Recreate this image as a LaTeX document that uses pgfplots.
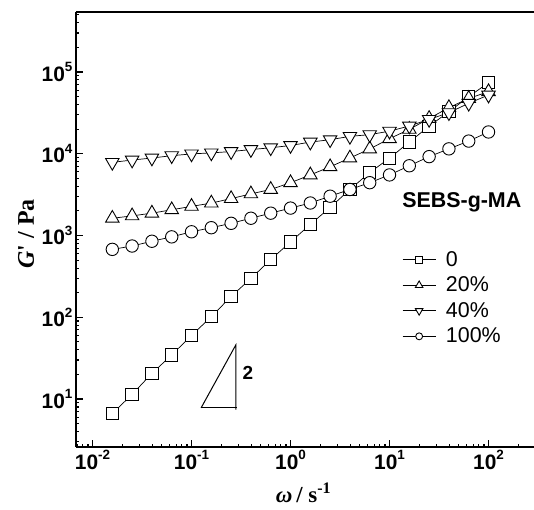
\documentclass[border=0pt]{standalone}
\usepackage{fontspec}
\setmainfont{Liberation Sans}
\newfontfamily\serifbf{Liberation Serif}
\usepackage{pgfplots}
\pgfplotsset{compat=1.18}
\usetikzlibrary{calc}

\newcommand{\tl}[1]{\textbf{10\raisebox{0.45em}{\fontsize{13.5}{13.5}\selectfont\bfseries #1}}}

\begin{document}
\begin{tikzpicture}
\begin{axis}[
  name=ax,
  scale only axis, width=458bp, height=435bp,
  xmode=log, ymode=log,
  xmin=0.00681, xmax=288, ymin=2.59, ymax=5.42e5,
  axis x line=box, axis y line=left,
  axis line style={-, line width=1.8bp},
  tick align=inside, xtick pos=left, ytick pos=left,
  major tick length=7bp, minor tick length=3.5bp,
  every tick/.style={black, line width=1.1bp},
  xtick={0.01,0.1,1,10,100},
  xticklabels={\tl{-2},\tl{-1},\tl{0},\tl{1},\tl{2}},
  minor xtick={0.007,0.008,0.009,0.02,0.03,0.04,0.05,0.06,0.07,0.08,0.09,
    0.2,0.3,0.4,0.5,0.6,0.7,0.8,0.9,2,3,4,5,6,7,8,9,
    20,30,40,50,60,70,80,90,200},
  ytick={10,100,1000,10000,100000},
  yticklabels={\tl{1},\tl{2},\tl{3},\tl{4},\tl{5}},
  minor ytick={3,4,5,6,7,8,9,20,30,40,50,60,70,80,90,200,300,400,500,600,700,800,900,
    2000,3000,4000,5000,6000,7000,8000,9000,20000,30000,40000,50000,60000,70000,80000,90000,
    200000,300000,400000,500000},
  tick label style={font=\fontsize{21}{22}\selectfont\bfseries},
  xlabel={\serifbf\bfseries\itshape ω\upshape\,/ s\textsuperscript{-1}},
  ylabel={\serifbf\bfseries\itshape G\upshape' / Pa},
  xlabel style={at={(axis description cs:0.497,-0.106)}, anchor=center, inner sep=0pt,
    font=\fontsize{23}{25}\selectfont},
  ylabel style={at={(axis description cs:-0.109,0.49)}, anchor=center, inner sep=0pt,
    font=\fontsize{24}{26}\selectfont},
  legend image code/.code={
    \draw[#1, mark=none] (0bp,0bp) -- (33bp,0bp);
    \draw[#1, every mark/.append style={scale=0.56}] plot coordinates {(16.5bp,0bp)};
    \path (43bp,0bp);
  },
  legend style={at={(axis description cs:0.712,0.452)}, anchor=north west,
    draw=none, fill=none, inner sep=0pt, row sep=7bp,
    font=\fontsize{21.5}{24}\selectfont,
    nodes={inner sep=0pt, text height=15.5bp, text depth=3bp}},
  legend cell align=left,
]
\addplot[black, line width=0.7bp, mark=square*, mark size=6.2bp,
  mark options={fill=white, line width=0.9bp}] coordinates {
  (0.01585,6.65)(0.02512,11.4)(0.03981,20.6)(0.0631,34.6)(0.1,60.1)
  (0.1585,101.5)(0.2512,180)(0.3981,298)(0.631,508)(1,834)
  (1.585,1368)(2.512,2204)(3.981,3661)(6.31,5893)(10,8834)
  (15.85,13920)(25.12,21760)(39.81,32680)(63.1,49960)(100,74030)};
\addlegendentry{0}
\addplot[black, line width=0.7bp, mark=triangle*, mark size=7.8bp,
  mark options={fill=white, line width=0.9bp}] coordinates {
  (0.01585,1625)(0.02512,1739)(0.03981,1877)(0.0631,2065)(0.1,2271)
  (0.1585,2494)(0.2512,2827)(0.3981,3230)(0.631,3661)(1,4423)
  (1.585,5511)(2.512,6932)(3.981,8880)(6.31,11450)(10,15300)
  (15.85,19880)(25.12,27000)(39.81,36670)(63.1,47500)(100,57450)};
\addlegendentry{20\%}
\addplot[black, line width=0.7bp, mark=triangle*, mark size=7.8bp,
  mark options={fill=white, line width=0.9bp, rotate=180}] coordinates {
  (0.01585,7850)(0.02512,8380)(0.03981,8870)(0.0631,9470)(0.1,9960)
  (0.1585,10250)(0.2512,10640)(0.3981,11260)(0.631,11830)(1,12630)
  (1.585,13890)(2.512,14860)(3.981,16320)(6.31,17140)(10,18900)
  (15.85,21860)(25.12,26330)(39.81,31800)(63.1,41450)(100,52240)};
\addlegendentry{40\%}
\addplot[black, line width=0.7bp, mark=*, mark size=6.2bp,
  mark options={fill=white, line width=0.9bp}] coordinates {
  (0.01585,677)(0.02512,744)(0.03981,851)(0.0631,963)(0.1,1111)
  (0.1585,1246)(0.2512,1410)(0.3981,1627)(0.631,1877)(1,2165)
  (1.585,2499)(2.512,3027)(3.981,3657)(6.31,4428)(10,5511)
  (15.85,7131)(25.12,9226)(39.81,11480)(63.1,14290)(100,18470)};
\addlegendentry{100\%}
\node[anchor=west, inner sep=0pt, font=\fontsize{21.5}{24}\selectfont\bfseries]
  at (axis description cs:0.712,0.563) {SEBS-g-MA};
\draw[line width=1bp] (axis cs:0.125,7.8) -- (axis cs:0.28,45.8) -- (axis cs:0.28,7.4);
\draw[line width=1bp] (axis cs:0.125,7.8) -- (axis cs:0.288,7.8);
\node[font=\fontsize{19}{20}\selectfont\bfseries] at (axis cs:0.37,20.8) {2};
\end{axis}
\pgfresetboundingbox
\path ($(ax.south west)+(-76bp,-63bp)$) rectangle ($(ax.north east)+(0bp,12bp)$);
\end{tikzpicture}
\end{document}
